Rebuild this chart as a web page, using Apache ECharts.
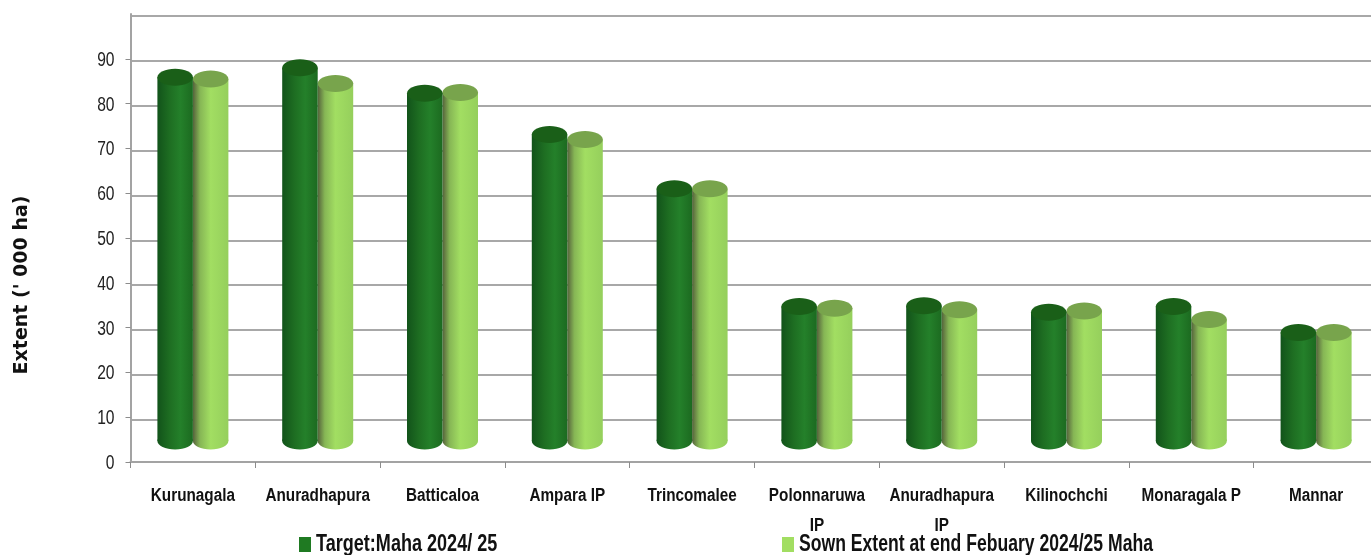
<!DOCTYPE html>
<html><head><meta charset="utf-8">
<style>html,body{margin:0;padding:0;background:#fff;overflow:hidden}#c{width:1371px;height:555px}</style>
<script src="https://cdn.jsdelivr.net/npm/echarts@6/dist/echarts.min.js"></script>
</head><body><div id="c"></div>
<script>
const categories = ['Kurunagala','Anuradhapura','Batticaloa','Ampara IP','Trincomalee','Polonnaruwa\nIP','Anuradhapura\nIP','Kilinochchi','Monaragala P','Mannar'];
const targetValues = [85.9,88.0,82.3,73.1,61.0,34.7,34.9,33.4,34.7,28.9];
const sownValues = [85.5,84.5,82.5,72.0,61.0,34.3,34.0,33.7,31.8,28.9];
const yTicks = [0,10,20,30,40,50,60,70,80,90];
const targetName = 'Target:Maha 2024/ 25';
const sownName = 'Sown Extent at end Febuary 2024/25 Maha';
const floorValue = 4.7;
const FONT = '"Liberation Sans",sans-serif';

function cylinder(side, palette) {
  return function (params, api) {
    const top = api.coord([api.value(0), api.value(1)]);
    const base = api.coord([api.value(0), floorValue]);
    const w = 35.5, ry = 8.5;
    const x = side < 0 ? top[0] - w : top[0];
    const cx = x + w / 2;
    const grad = new echarts.graphic.LinearGradient(0, 0, 1, 0, palette.side);
    return {
      type: 'group',
      children: [
        { type: 'ellipse', shape: { cx: cx, cy: base[1], rx: w / 2, ry: ry }, style: { fill: grad } },
        { type: 'rect', shape: { x: x, y: top[1], width: w, height: base[1] - top[1] }, style: { fill: grad } },
        { type: 'ellipse', shape: { cx: cx, cy: top[1], rx: w / 2, ry: ry }, style: { fill: palette.top } }
      ]
    };
  };
}
const darkPalette = { top: '#1a5f18', side: [
  { offset: 0, color: '#12531a' }, { offset: 0.35, color: '#1e6e22' }, { offset: 0.65, color: '#24802a' }, { offset: 1, color: '#1c6a20' }] };
const lightPalette = { top: '#78a44c', side: [
  { offset: 0, color: '#55623c' }, { offset: 0.2, color: '#86b655' }, { offset: 0.5, color: '#a2de62' }, { offset: 1, color: '#95cf5c' }] };

function makeSeries(name, values, side, palette, color) {
  return {
    name: name, type: 'custom', xAxisIndex: 0, yAxisIndex: 0, z: 5 + (side > 0 ? 0 : 1),
    clip: false, silent: true,
    itemStyle: { color: color },
    encode: { x: 0, y: 1 },
    data: values.map((v, i) => [i, v]),
    renderItem: cylinder(side, palette)
  };
}

const chart = echarts.init(document.getElementById('c'), null, { renderer: 'canvas' });
const legendBase = { orient: 'horizontal', itemWidth: 12, itemHeight: 15, itemGap: 3, icon: 'rect', selectedMode: false,
  textStyle: { fontFamily: FONT, fontWeight: 'bold', fontSize: 23, color: '#111', padding: [3, 0, 0, 0] } };
chart.setOption({
  animation: false,
  backgroundColor: '#fff',
  grid: [
    { left: 130.5, top: 14, width: 1248, height: 448, outerBoundsMode: 'none' },
    { left: 130.5, top: 15.5, width: 1248, height: 449.5, outerBoundsMode: 'none' }
  ],
  legend: [
    Object.assign({}, legendBase, { left: 294, top: 528, data: [targetName] }),
    Object.assign({}, legendBase, { left: 777, top: 528, data: [sownName] })
  ],
  xAxis: [
    { type: 'category', gridIndex: 0, data: categories,
      axisLine: { lineStyle: { color: '#a3a3a3', width: 2 } },
      axisTick: { show: true, alignWithLabel: false, length: 6, lineStyle: { color: '#8c8c8c', width: 1 } },
      axisLabel: { interval: 0, margin: 19, fontFamily: FONT, fontWeight: 'bold', fontSize: 18, lineHeight: 30, color: '#111' } },
    { type: 'category', gridIndex: 1, show: false, data: categories }
  ],
  yAxis: [
    { type: 'value', gridIndex: 0, min: 0, max: 100, interval: 10,
      name: "Extent (' 000 ha)", nameLocation: 'middle', nameGap: 99, nameRotate: 90,
      nameTextStyle: { fontFamily: '"DejaVu Sans"', fontWeight: 'bold', fontSize: 19, color: '#111', padding: [0, 94, 0, 0] },
      axisLine: { show: true, lineStyle: { color: '#a3a3a3', width: 2 } },
      axisTick: { show: true, length: 5, customValues: yTicks, lineStyle: { color: '#8c8c8c', width: 1 } },
      splitLine: { show: false },
      axisLabel: { margin: 16, customValues: yTicks, fontFamily: FONT, fontSize: 20, color: '#222' } },
    { type: 'value', gridIndex: 1, min: 0, max: 100, interval: 10,
      axisLine: { show: false }, axisTick: { show: false }, axisLabel: { show: false },
      splitLine: { show: true, showMinLine: false, lineStyle: { color: '#a8a8a8', width: 2 } } }
  ],
  series: [
    makeSeries(targetName, targetValues, -1, darkPalette, '#1f7a22'),
    makeSeries(sownName, sownValues, 1, lightPalette, '#a2de62')
  ]
});

// The reference uses a condensed face; none is installed, so squeeze the real text horizontally.
const zr = chart.getZr();
zr.storage.traverse(function (el) {
  if (el.type !== 'text' || !el.style || !el.style.text) return;
  const t = String(el.style.text);
  if (t.indexOf('Extent (') === 0) return;
  let k = 0.85;
  if (t === targetName) k = 0.785;
  else if (t === sownName) k = 0.765;
  else if (yTicks.map(String).indexOf(t) >= 0) { k = 0.78; el.y += 1.5; }
  el.originX = el.style.x || 0;
  el.scaleX = k;
  el.markRedraw();
});
zr.refreshImmediately();
</script></body></html>
